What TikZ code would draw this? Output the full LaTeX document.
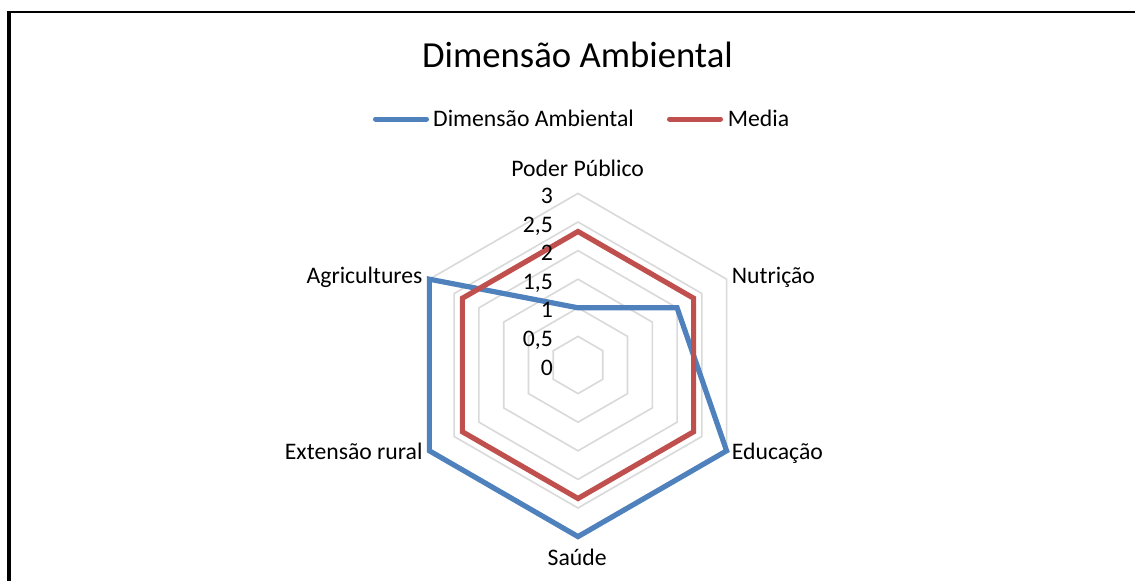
\documentclass[tikz,border=0pt]{standalone}
\usepackage{fontspec}
\setmainfont{Carlito}
\definecolor{serA}{HTML}{4F81BD}
\definecolor{serB}{HTML}{C0504D}
\definecolor{gridc}{HTML}{D9D9D9}
\begin{document}
\begin{tikzpicture}[x=1pt,y=-1pt,
  lbl/.style={font=\fontsize{23.7}{28}\selectfont, inner sep=0pt},
  ttl/.style={font=\fontsize{36.7}{44}\selectfont, inner sep=0pt},
  gridhex/.style={draw=gridc, line width=1.6pt},
  serieA/.style={draw=serA, line width=5.2pt, line join=miter},
  serieB/.style={draw=serB, line width=5.2pt, line join=miter},
  legline/.style={line width=5pt, line cap=round},
]
\useasboundingbox (0,0) rectangle (1135,581);
\fill[white] (0,0) rectangle (1135,581);
% frame
\draw[line width=4pt] (8.7,581) -- (8.7,10.9);
\draw[line width=2.5pt] (6.7,12.2) -- (1135,12.2);
% title
\node[ttl, anchor=base] (title) at (577.5,67) {Dimensão Ambiental};
% legend
\coordinate (la1) at (375.5,119);
\coordinate (la2) at (426.5,119);
\draw[legline, serA] (la1) -- (la2);
\node[lbl, anchor=base west] (legA) at (433,126.7) {Dimensão Ambiental};
\coordinate (lb1) at (669.5,119);
\coordinate (lb2) at (720.5,119);
\draw[legline, serB] (lb1) -- (lb2);
\node[lbl, anchor=base west] (legB) at (727.7,126.7) {Media};
% chart
\begin{scope}[shift={(578,365)}]
  \foreach \k in {1,...,6}{
    \pgfmathsetmacro{\r}{28.6*\k}
    \draw[gridhex] (90:\r pt) -- (30:\r pt) -- (-30:\r pt) -- (-90:\r pt) -- (-150:\r pt) -- (150:\r pt) -- cycle;
  }
  % series Dimensão Ambiental
  \draw[serieA] (90:57.2pt) -- (30:114.4pt) -- (-30:171.6pt) -- (-90:171.6pt) -- (-150:171.6pt) -- (150:171.6pt) -- cycle;
  % series Media
  \draw[serieB] (90:133.5pt) -- (30:133.5pt) -- (-30:133.5pt) -- (-90:133.5pt) -- (-150:133.5pt) -- (150:133.5pt) -- cycle;
\end{scope}
% axis tick labels
\node[lbl, anchor=base east] (t30) at (553,203.4) {3};
\node[lbl, anchor=base east] (t25) at (553,232) {2,5};
\node[lbl, anchor=base east] (t20) at (553,260.6) {2};
\node[lbl, anchor=base east] (t15) at (553,289.2) {1,5};
\node[lbl, anchor=base east] (t10) at (553,317.8) {1};
\node[lbl, anchor=base east] (t05) at (553,346.4) {0,5};
\node[lbl, anchor=base east] (t00) at (553,375) {0};
% category labels
\node[lbl, anchor=base] (cPP) at (577.7,176.7) {Poder Público};
\node[lbl, anchor=base west] (cNut) at (731.7,283.3) {Nutrição};
\node[lbl, anchor=base west] (cEdu) at (731.7,459) {Educação};
\node[lbl, anchor=base] (cSau) at (577.2,565) {Saúde};
\node[lbl, anchor=base east] (cExt) at (422.7,459) {Extensão rural};
\node[lbl, anchor=base east] (cAgr) at (422.7,283.3) {Agricultures};
\end{tikzpicture}
\end{document}
